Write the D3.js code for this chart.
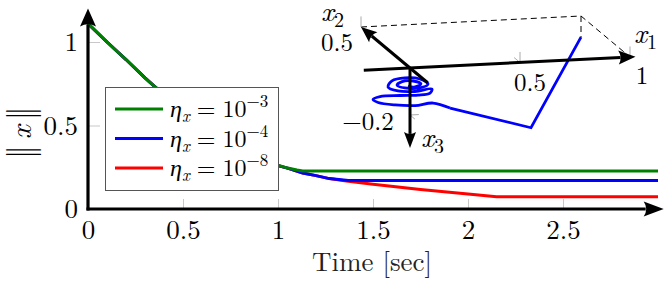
<!DOCTYPE html>
<html>
<head>
<meta charset="utf-8">
<script src="https://cdn.jsdelivr.net/npm/d3@7"></script>
<style>
  body { margin: 0; background: #fff; }
</style>
</head>
<body>
<div id="chart"></div>
<script>
// data ---------------------------------------------------------------------
const xTicks = [0, 0.5, 1, 1.5, 2, 2.5];
const yTicks = [0, 0.5, 1];

const tGreen = [0, 0.1, 0.2, 0.3, 0.35, 0.5, 0.7, 0.9, 1.0, 1.05, 1.1, 1.13, 3.0];
const vGreen = [1.11, 1.0, 0.895, 0.785, 0.735, 0.59, 0.43, 0.31, 0.262, 0.245, 0.233, 0.228, 0.228];

const tBlue = [0, 0.1, 0.2, 0.3, 0.35, 0.5, 0.7, 0.9, 1.0, 1.05, 1.13, 1.2, 1.27, 1.37, 3.0];
const vBlue = [1.11, 1.0, 0.895, 0.785, 0.735, 0.59, 0.43, 0.31, 0.26, 0.245, 0.216, 0.2, 0.182, 0.17, 0.17];

const tRed = [0, 0.1, 0.2, 0.3, 0.35, 0.5, 0.7, 0.9, 1.0, 1.05, 1.13, 1.2, 1.27, 1.36, 1.5, 1.75, 2.0, 2.15, 3.0];
const vRed = [1.11, 1.0, 0.895, 0.785, 0.735, 0.59, 0.43, 0.31, 0.26, 0.245, 0.216, 0.2, 0.182, 0.168, 0.148, 0.117, 0.09, 0.074, 0.074];

const legendExp = ["−3", "−4", "−8"];
const legendColors = ["#008000", "#0000ff", "#ff0000"];

// inset: 3D trajectory (x1, x2, x3)
const traj1 = [1, 0.55, 0.182, 0.105, 0.023, -0.068, -0.145, -0.168, -0.136, -0.045, 0.036, 0.091, 0.1, 0.023, -0.055, -0.1, -0.082, -0.023, 0.045, 0.082, 0.045, -0.023, -0.059, -0.036, 0.014, 0.05, 0.018, -0.009];
const traj2 = [0.5, 0, 0, 0, 0, 0, 0, 0, 0, 0, 0, 0, 0, 0, 0, 0, 0, 0, 0, 0, 0, 0, 0, 0, 0, 0, 0, 0];
const traj3 = [-0.09, -0.28, -0.179, -0.154, -0.161, -0.154, -0.14, -0.126, -0.115, -0.115, -0.117, -0.111, -0.094, -0.101, -0.095, -0.076, -0.051, -0.041, -0.049, -0.072, -0.087, -0.084, -0.07, -0.056, -0.056, -0.07, -0.082, -0.076];

// svg ----------------------------------------------------------------------
const svgWidth = 666;
const svgHeight = 282;
const serif = '"Latin Modern Roman", "Liberation Serif", serif';

const svg = d3.select("#chart").append("svg")
    .attr("width", svgWidth)
    .attr("height", svgHeight)
    .style("font-family", serif);

const x = d3.scaleLinear().domain([0, 2.5]).range([88, 563]);
const y = d3.scaleLinear().domain([0, 1]).range([209, 42]);

// ticks + labels
const xAxisG = svg.append("g")
    .attr("transform", `translate(0, ${y(0)})`)
    .call(d3.axisBottom(x).tickValues(xTicks).tickSize(-10).tickPadding(11).tickFormat(d => String(d)));

const yAxisG = svg.append("g")
    .attr("transform", `translate(${x(0)}, 0)`)
    .call(d3.axisLeft(y).tickValues(yTicks).tickSize(-12).tickPadding(10).tickFormat(d => String(d)));

[xAxisG, yAxisG].forEach(g => {
    g.attr("font-family", null).attr("font-size", null);
    g.select(".domain").remove();
    g.selectAll(".tick line").attr("stroke", "#c8c8c8").attr("stroke-width", 1);
    g.selectAll(".tick text")
        .attr("fill", "#000")
        .style("font-family", serif)
        .style("font-size", "27px");
});

// curves (red first so green sits on top)
const line = d3.line().x(d => x(d[0])).y(d => y(d[1]));
const series = [
    [tRed, vRed, "#ff0000"],
    [tBlue, vBlue, "#0000ff"],
    [tGreen, vGreen, "#008000"]
];
series.forEach(([t, v, c]) => {
    svg.append("path")
        .datum(t.map((d, i) => [d, v[i]]))
        .attr("d", line)
        .attr("fill", "none")
        .attr("stroke", c)
        .attr("stroke-width", 3);
});

// axis lines with arrows
const drawArrow = (g, x0, y0, x1, y1, w, len, hw) => {
    const ang = Math.atan2(y1 - y0, x1 - x0);
    const bx = x1 - len * Math.cos(ang), by = y1 - len * Math.sin(ang);
    g.append("line")
        .attr("x1", x0).attr("y1", y0)
        .attr("x2", bx + 2 * Math.cos(ang)).attr("y2", by + 2 * Math.sin(ang))
        .attr("stroke", "#000").attr("stroke-width", w);
    const px = -Math.sin(ang) * hw, py = Math.cos(ang) * hw;
    g.append("path")
        .attr("d", `M${x1},${y1}L${bx + px},${by + py}Q${bx + len * 0.25 * Math.cos(ang)},${by + len * 0.25 * Math.sin(ang)} ${bx - px},${by - py}Z`)
        .attr("fill", "#000");
};

const axesG = svg.append("g");
drawArrow(axesG, x(0) - 1.5, y(0), x(3.03), y(0), 3.2, 20, 7.5);
drawArrow(axesG, x(0), y(0) + 1.5, x(0), y(1.2), 3.2, 18, 8);

// axis titles
svg.append("text")
    .attr("x", 372).attr("y", 271)
    .attr("text-anchor", "middle")
    .attr("fill", "#222")
    .style("font-size", "27px")
    .text("Time [sec]");

// ||x|| rotated: bars as separate glyphs so they can sit close together
const yLab = svg.append("g").attr("transform", "translate(32, 133) rotate(-90)");
[22, 17.5, -17, -21.5].forEach(lx => {
    yLab.append("text")
        .attr("x", lx).attr("y", 0)
        .attr("text-anchor", "middle")
        .style("font-size", "35px")
        .text("|");
});
yLab.append("text")
    .attr("x", 1).attr("y", -1)
    .attr("text-anchor", "middle")
    .style("font-size", "30px")
    .style("font-style", "italic")
    .text("x");

// legend
const legend = svg.append("g");
legend.append("rect")
    .attr("x", 105.5).attr("y", 87.5)
    .attr("width", 173).attr("height", 103)
    .attr("fill", "#fff")
    .attr("stroke", "#555")
    .attr("stroke-width", 1);

legendExp.forEach((e, i) => {
    const cy = 109 + i * 29.5;
    legend.append("line")
        .attr("x1", 115).attr("x2", 163)
        .attr("y1", cy).attr("y2", cy)
        .attr("stroke", legendColors[i])
        .attr("stroke-width", 3);
    const t = legend.append("text")
        .attr("x", 170).attr("y", cy + 8)
        .style("font-size", "24px");
    t.append("tspan").style("font-style", "italic").text("η");
    t.append("tspan").style("font-style", "italic").style("font-size", "17px").attr("dy", 5).text("x");
    t.append("tspan").attr("dy", -5).attr("dx", 7).text("=");
    t.append("tspan").attr("dx", 7).text("10");
    t.append("tspan").style("font-size", "17px").attr("dy", -10).text(e);
});

// inset (3D projection) -----------------------------------------------------
const origin = [410, 68];
const e1x = d3.scaleLinear().domain([0, 1]).range([0, 220]);
const e1y = d3.scaleLinear().domain([0, 1]).range([0, -11]);
const e2x = d3.scaleLinear().domain([0, 1]).range([0, -98]);
const e2y = d3.scaleLinear().domain([0, 1]).range([0, -82]);
const e3y = d3.scaleLinear().domain([0, 1]).range([0, -235]);
const proj = (a, b, c) => [origin[0] + e1x(a) + e2x(b), origin[1] + e1y(a) + e2y(b) + e3y(c)];

const inset = svg.append("g");

// dashed box to the start point
const seg = d3.line().x(d => d[0]).y(d => d[1]);
inset.append("path")
    .attr("d", seg([proj(0, 0.5, 0), proj(1, 0.5, 0), proj(1, 0, 0)]))
    .attr("fill", "none").attr("stroke", "#000").attr("stroke-width", 1)
    .attr("stroke-dasharray", "6,4");
inset.append("path")
    .attr("d", seg([proj(1, 0.5, 0), proj(traj1[0], traj2[0], traj3[0])]))
    .attr("fill", "none").attr("stroke", "#000").attr("stroke-width", 1)
    .attr("stroke-dasharray", "6,4");

// gray ticks
const tickSeg = (p, q) => inset.append("path")
    .attr("d", seg([p, q]))
    .attr("stroke", "#aaa").attr("stroke-width", 1).attr("fill", "none");
[0.5, 1].forEach(v => {
    tickSeg(proj(v, 0, 0), proj(v, 0, 0.045));
    tickSeg(proj(v, 0, 0), proj(v, 0.06, 0));
});
tickSeg(proj(0, 0.5, 0), proj(0, 0.5, 0.045));
tickSeg(proj(0, 0, -0.2), proj(0.04, 0, -0.2));
tickSeg(proj(0, 0, -0.2), proj(0, -0.05, -0.2));

// trajectory
const pts = traj1.map((d, i) => proj(d, traj2[i], traj3[i]));
inset.append("path")
    .attr("d", d3.line()(pts.slice(0, 3)))
    .attr("fill", "none").attr("stroke", "#0000ff").attr("stroke-width", 2.8);
inset.append("path")
    .attr("d", d3.line().curve(d3.curveCatmullRom)(pts.slice(2)))
    .attr("fill", "none").attr("stroke", "#0000ff").attr("stroke-width", 2.8)
    .attr("stroke-linejoin", "round");

// inset axes
const a1 = proj(-0.21, 0, 0), b1 = proj(1.025, 0, 0);
const a2 = proj(0, -0.18, 0), b2 = proj(0, 0.5, 0);
const a3 = proj(0, 0, 0), b3 = proj(0, 0, -0.34);
drawArrow(inset, a1[0], a1[1], b1[0], b1[1], 3, 17, 7);
drawArrow(inset, a2[0], a2[1], b2[0], b2[1], 3, 16, 6.5);
drawArrow(inset, a3[0], a3[1], b3[0], b3[1], 3, 16, 6);

// inset labels
const axisName = (px, py, sub) => {
    const t = inset.append("text").attr("x", px).attr("y", py).style("font-size", "28px");
    t.append("tspan").style("font-style", "italic").text("x");
    t.append("tspan").style("font-size", "20px").attr("dy", 6).text(sub);
};
axisName(634, 43, "1");
axisName(321, 21, "2");
axisName(421, 147, "3");

const inLab = (px, py, s) => inset.append("text")
    .attr("x", px).attr("y", py)
    .attr("text-anchor", "middle")
    .style("font-size", "25px")
    .text(s);
inLab(530, 91, "0.5");
inLab(642, 84, "1");
inLab(337, 51, "0.5");
inLab(368, 130, "−0.2");
</script>
</body>
</html>
